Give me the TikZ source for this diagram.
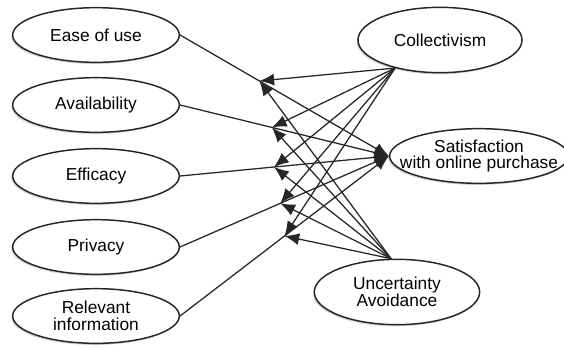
\documentclass[tikz,border=0pt]{standalone}
\usepackage{fontspec}
\setmainfont{Liberation Sans}
\usetikzlibrary{arrows.meta, shapes.geometric, shadows}
\tikzset{>={Latex[length=11pt,width=9pt]}}
\tikzset{construct/.style={ellipse, draw=black!85, line width=1.1pt, fill=white,
    inner xsep=-20pt, inner ysep=-8pt, minimum width=125pt, minimum height=41pt,
    align=center, font=\fontsize{13}{12.5}\selectfont,
    drop shadow={shadow xshift=-1pt, shadow yshift=-1.2pt, opacity=0.35}}}
\tikzset{link/.style={->, line width=0.95pt, black!85}}

\begin{document}
\begin{tikzpicture}[x=0.75pt, y=-0.75pt]
\useasboundingbox (0,0) rectangle (564,347);

% antecedents
\node[construct] (ease) at (96,35) {Ease of use};
\node[construct] (avail) at (96,105) {Availability};
\node[construct] (effic) at (96,176) {Efficacy};
\node[construct] (priv) at (96,247) {Privacy};
\node[construct] (relev) at (96,316) {Relevant\\information};

% moderators and outcome
\node[construct, minimum width=123pt, minimum height=49pt] (coll) at (440,40) {Collectivism};
\node[construct, minimum width=134pt] (sat) at (479,156) {Satisfaction\\with online purchase};
\node[construct, minimum width=124pt, minimum height=49pt] (ua) at (397,292) {Uncertainty\\Avoidance};

\draw[link] (ease.east) -- coordinate[pos=0.38] (m1) (sat.west);
\draw[link] (avail.east) -- coordinate[pos=0.44] (m2) (sat.west);
\draw[link] (effic.east) -- coordinate[pos=0.45] (m3) (sat.west);
\draw[link] (priv.east) -- coordinate[pos=0.48] (m4) (sat.west);
\draw[link] (relev.east) -- coordinate[pos=0.5] (m5) (sat.west);

\foreach \i in {1,...,5} {
  \draw[link] (coll.212) -- (m\i);
  \draw[link] (ua.100) -- (m\i);
}
\end{tikzpicture}
\end{document}
